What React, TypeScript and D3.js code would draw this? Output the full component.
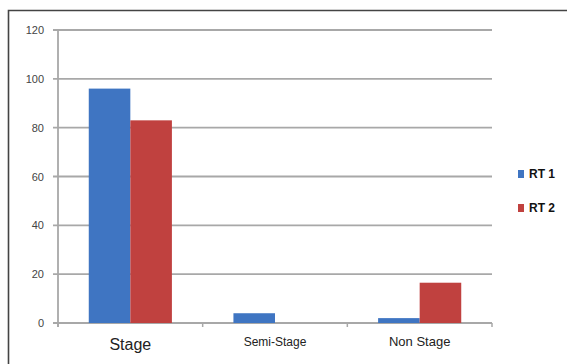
import React from "react";
import * as d3 from "d3";

const categories = ["Stage", "Semi-Stage", "Non Stage"];
const seriesNames = ["RT 1", "RT 2"];
const rt1 = [96, 4, 2];
const rt2 = [83, 0, 16.5];
const yTicks = [0, 20, 40, 60, 80, 100, 120];
const colors = ["#3f75c2", "#c0413f"];
const catFontSizes = [16, 12, 13];

export default function App() {
  const W = 567, H = 364;
  const x0 = 58, x1 = 492, yTop = 30, yBot = 323;
  const x = d3.scaleBand().domain(categories).range([x0, x1]).paddingInner(0).paddingOuter(0);
  const y = d3.scaleLinear().domain([0, 120]).range([yBot, yTop]);
  const inner = d3.scaleBand().domain(seriesNames).range([0, x.bandwidth()]).paddingOuter(0.74).paddingInner(0);
  const series = [rt1, rt2];
  return (
    <svg width={W} height={H} style={{ position: "absolute", left: 0, top: 0 }}>
      <rect x={0} y={0} width={W} height={H} fill="#fff" />
      <path d={`M8.5,${H} V10.5 H${W}`} fill="none" stroke="#444" strokeWidth={1.6} />
      {yTicks.map((t) => (
        <g key={t}>
          <line x1={x0 - 5} x2={x1} y1={y(t)} y2={y(t)} stroke="#a8a8a8" strokeWidth={t === 0 ? 2 : 1.8} />
          <text x={44} y={y(t) + 4} textAnchor="end" fontFamily="'Liberation Sans', Arial" fontSize={11} fill="#444">{t}</text>
        </g>
      ))}
      <line x1={x0} x2={x0} y1={yTop} y2={yBot + 4} stroke="#a8a8a8" strokeWidth={1.8} />
      {[...categories.map((c) => x(c)!), x1].map((v, i) => (
        <line key={i} x1={v} x2={v} y1={yBot} y2={yBot + 4} stroke="#a8a8a8" strokeWidth={1.5} />
      ))}
      {categories.map((c, ci) =>
        series.map((s, si) => {
          const v = s[ci];
          if (v <= 0) return null;
          return (
            <rect key={c + si} x={x(c)! + inner(seriesNames[si])!} y={y(v)} width={inner.bandwidth()} height={yBot - y(v)} fill={colors[si]} />
          );
        })
      )}
      {categories.map((c, ci) => (
        <text key={c} x={x(c)! + x.bandwidth() / 2} y={ci === 0 ? 350 : 346} textAnchor="middle" fontFamily="'Liberation Sans', Arial" fontSize={catFontSizes[ci]} fill="#222">{c}</text>
      ))}
      {seriesNames.map((n, i) => (
        <g key={n}>
          <rect x={518} y={170 + i * 34} width={6} height={8} fill={colors[i]} />
          <text x={529} y={178 + i * 34} fontFamily="'Liberation Sans', Arial" fontWeight="bold" fontSize={12} fill="#111">{n}</text>
        </g>
      ))}
    </svg>
  );
}
